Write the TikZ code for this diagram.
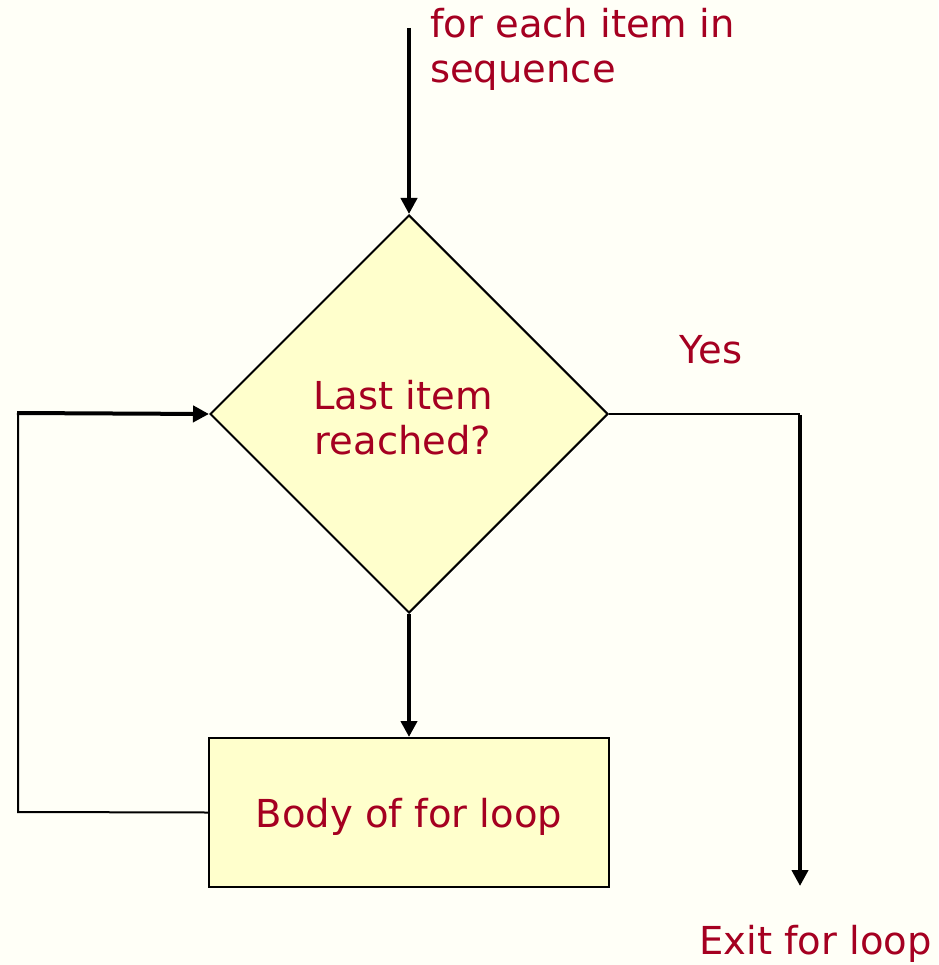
\documentclass[tikz,border=0pt]{standalone}
\usepackage{fontspec}
\setmainfont{DejaVu Sans}
\usetikzlibrary{shapes.geometric,arrows.meta}
\definecolor{bg}{HTML}{FFFFF7}
\definecolor{txt}{HTML}{A50021}
\definecolor{boxfill}{HTML}{FFFFCC}
\tikzset{
  x=1pt, y=-1pt,
  lbl/.style={text=txt, font=\fontsize{38.5}{45}\selectfont, inner sep=0pt},
  thin line/.style={draw=black, line width=2pt},
  thick line/.style={draw=black, line width=4pt},
  tip/.style={-{Triangle[length=16pt,width=16pt]}},
  decision/.style={diamond, draw=black, line width=2pt, fill=boxfill,
    minimum width=398pt, minimum height=398pt, aspect=1, inner sep=0pt},
  process/.style={rectangle, draw=black, line width=2pt, fill=boxfill,
    minimum width=400pt, minimum height=149pt, inner sep=0pt},
}
\begin{document}
\begin{tikzpicture}
  \fill[bg] (0,0) rectangle (938,965);
  \useasboundingbox (0,0) rectangle (938,965);

  % shapes
  \node[decision] (dec) at (409,414) {};
  \node[lbl, align=center] (dectext) at (403,418) {Last item\\ reached?};
  \node[process] (body) at (409,812.5) {};
  \node[lbl] (bodytext) at (409,817) {Body of for loop};

  % labels
  \node[lbl, anchor=north west, align=left] (start) at (430,8) {for each item in\\sequence};
  \node[lbl] (yes) at (711,350) {Yes};
  \node[lbl, anchor=east] (exit) at (932,944) {Exit for loop};

  % helper points
  \coordinate (in) at (409,28);
  \coordinate (lb) at (18,812);
  \coordinate (lt) at (18,413);
  \coordinate (rt) at (800,414);
  \coordinate (rb) at (800,886);

  % connectors
  \draw[thick line, tip] (in) -- (dec.north);
  \draw[thick line, tip] (dec.south) -- (body.north);
  \draw[thin line] (body.west) -- (lb) -- (lt);
  \draw[thick line, tip] ([xshift=-1pt]lt) -- (dec.west);
  \draw[thin line] (dec.east) -- (rt);
  \draw[thick line, tip] ([yshift=-1pt]rt) -- (rb);
\end{tikzpicture}
\end{document}
